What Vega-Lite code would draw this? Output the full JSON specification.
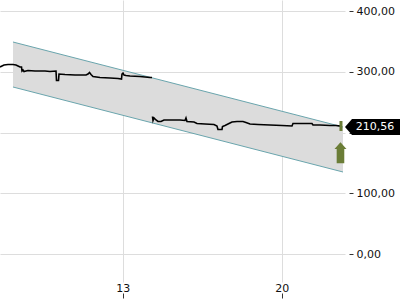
{
  "$schema": "https://vega.github.io/schema/vega-lite/v6.json",
  "width": 345,
  "height": 282,
  "padding": {"left": 0, "top": 0, "right": 55, "bottom": 18},
  "autosize": {"type": "none"},
  "config": {
    "view": {"stroke": null},
    "font": "DejaVu Sans",
    "axis": {"labelFont": "DejaVu Sans", "labelFontSize": 11, "labelColor": "#111", "gridColor": "#dddddd", "gridWidth": 1, "domain": false, "tickColor": "#333"}
  },
  "datasets": {
    "channel": [
      {"day": 8.169, "upper": 348.97, "lower": 274.9},
      {"day": 22.7, "upper": 209.06, "lower": 134.98}
    ],
    "price": [
      {"seg": "a", "day": 7.597, "price": 307.82},
      {"seg": "a", "day": 7.685, "price": 309.47},
      {"seg": "a", "day": 7.773, "price": 311.11},
      {"seg": "a", "day": 7.949, "price": 311.94},
      {"seg": "a", "day": 8.169, "price": 311.94},
      {"seg": "a", "day": 8.301, "price": 311.11},
      {"seg": "a", "day": 8.39, "price": 309.47},
      {"seg": "a", "day": 8.478, "price": 307.82},
      {"seg": "a", "day": 8.544, "price": 307.82},
      {"seg": "a", "day": 8.566, "price": 301.24},
      {"seg": "a", "day": 8.61, "price": 302.88},
      {"seg": "a", "day": 8.654, "price": 300.41},
      {"seg": "a", "day": 8.742, "price": 301.24},
      {"seg": "a", "day": 8.83, "price": 302.06},
      {"seg": "a", "day": 9.138, "price": 301.24},
      {"seg": "a", "day": 9.578, "price": 301.24},
      {"seg": "a", "day": 9.799, "price": 300.41},
      {"seg": "a", "day": 10.063, "price": 301.24},
      {"seg": "a", "day": 10.085, "price": 285.6},
      {"seg": "a", "day": 10.173, "price": 285.6},
      {"seg": "a", "day": 10.195, "price": 296.3},
      {"seg": "a", "day": 10.459, "price": 295.47},
      {"seg": "a", "day": 10.899, "price": 294.65},
      {"seg": "a", "day": 11.384, "price": 294.65},
      {"seg": "a", "day": 11.472, "price": 296.3},
      {"seg": "a", "day": 11.538, "price": 298.77},
      {"seg": "a", "day": 11.604, "price": 295.47},
      {"seg": "a", "day": 11.692, "price": 292.18},
      {"seg": "a", "day": 12.0, "price": 290.54},
      {"seg": "a", "day": 12.44, "price": 289.71},
      {"seg": "a", "day": 12.793, "price": 288.89},
      {"seg": "a", "day": 12.947, "price": 288.07},
      {"seg": "a", "day": 12.969, "price": 296.3},
      {"seg": "a", "day": 13.013, "price": 297.94},
      {"seg": "a", "day": 13.057, "price": 294.65},
      {"seg": "a", "day": 13.145, "price": 293.83},
      {"seg": "a", "day": 13.321, "price": 293.0},
      {"seg": "a", "day": 13.761, "price": 292.18},
      {"seg": "a", "day": 14.201, "price": 290.54},
      {"seg": "a", "day": 14.29, "price": 290.54},
      {"seg": "b", "day": 14.311, "price": 226.34},
      {"seg": "b", "day": 14.334, "price": 219.76},
      {"seg": "b", "day": 14.378, "price": 223.87},
      {"seg": "b", "day": 14.466, "price": 220.58},
      {"seg": "b", "day": 14.554, "price": 218.11},
      {"seg": "b", "day": 14.686, "price": 218.11},
      {"seg": "b", "day": 14.818, "price": 220.58},
      {"seg": "b", "day": 15.082, "price": 220.58},
      {"seg": "b", "day": 15.522, "price": 220.58},
      {"seg": "b", "day": 15.742, "price": 219.76},
      {"seg": "b", "day": 15.786, "price": 223.87},
      {"seg": "b", "day": 15.83, "price": 218.11},
      {"seg": "b", "day": 16.139, "price": 217.29},
      {"seg": "b", "day": 16.271, "price": 214.82},
      {"seg": "b", "day": 16.623, "price": 214.0},
      {"seg": "b", "day": 17.019, "price": 213.17},
      {"seg": "b", "day": 17.151, "price": 210.7},
      {"seg": "b", "day": 17.195, "price": 204.94},
      {"seg": "b", "day": 17.372, "price": 204.94},
      {"seg": "b", "day": 17.394, "price": 209.88},
      {"seg": "b", "day": 17.504, "price": 211.53},
      {"seg": "b", "day": 17.68, "price": 214.82},
      {"seg": "b", "day": 17.812, "price": 217.29},
      {"seg": "b", "day": 18.032, "price": 218.11},
      {"seg": "b", "day": 18.296, "price": 218.11},
      {"seg": "b", "day": 18.428, "price": 216.46},
      {"seg": "b", "day": 18.604, "price": 214.0},
      {"seg": "b", "day": 18.957, "price": 213.17},
      {"seg": "b", "day": 19.485, "price": 212.35},
      {"seg": "b", "day": 20.013, "price": 211.53},
      {"seg": "b", "day": 20.454, "price": 210.7},
      {"seg": "b", "day": 20.498, "price": 214.82},
      {"seg": "b", "day": 21.334, "price": 214.82},
      {"seg": "b", "day": 21.378, "price": 212.35},
      {"seg": "b", "day": 21.687, "price": 212.35},
      {"seg": "b", "day": 22.127, "price": 211.53},
      {"seg": "b", "day": 22.391, "price": 211.53},
      {"seg": "b", "day": 22.611, "price": 210.56}
    ],
    "last": [
      {"day": 22.611, "price": 210.56, "label": "210,56"}
    ]
  },
  "encoding": {
    "x": {
      "field": "day",
      "type": "quantitative",
      "scale": {"domain": [7.597, 22.788], "nice": false, "zero": false},
      "axis": {"values": [13, 20], "format": "d", "title": null, "grid": true, "tickSize": 16, "tickDash": [0, 11, 5, 20], "labelPadding": -16, "labelBaseline": "top"}
    }
  },
  "layer": [
    {
      "data": {"name": "channel"},
      "mark": {"type": "area", "color": "#dcdcdc"},
      "encoding": {
        "y": {
          "field": "upper",
          "type": "quantitative",
          "scale": {"domain": [-46.09, 418.11], "nice": false, "zero": false},
          "axis": {"orient": "right", "values": [0, 100, 200, 300, 400], "title": null, "grid": true, "tickSize": 8, "tickDash": [0, 4, 4, 10], "labelPadding": 3, "labelExpr": "datum.value == 200 ? '' : replace(format(datum.value, '.2f'), '.', ',')"}
        },
        "y2": {"field": "lower"}
      }
    },
    {
      "data": {"name": "channel"},
      "mark": {"type": "line", "color": "#6aa5ad", "strokeWidth": 1},
      "encoding": {"y": {"field": "upper", "type": "quantitative"}}
    },
    {
      "data": {"name": "channel"},
      "mark": {"type": "line", "color": "#6aa5ad", "strokeWidth": 1},
      "encoding": {"y": {"field": "lower", "type": "quantitative"}}
    },
    {
      "data": {"name": "price"},
      "mark": {"type": "line", "color": "#000000", "strokeWidth": 1.6},
      "encoding": {
        "y": {"field": "price", "type": "quantitative"},
        "detail": {"field": "seg"}
      }
    },
    {
      "data": {"name": "last"},
      "mark": {"type": "point", "filled": true, "color": "#6b7d37", "opacity": 1, "size": 1600, "clip": false, "shape": "M-0.075,-0.25L0.075,-0.25L0.075,0.25L-0.075,0.25Z M-0.025,0.81L0.275,1.15L0.165,1.15L0.165,1.855L-0.215,1.855L-0.215,1.15L-0.325,1.15Z"},
      "encoding": {"y": {"field": "price", "type": "quantitative"}}
    },
    {
      "data": {"name": "last"},
      "mark": {"type": "point", "filled": true, "color": "#000000", "opacity": 1, "size": 1600, "clip": false, "shape": "M0.2,0.05L0.55,-0.35L3,-0.35L3,0.45L0.55,0.45Z"},
      "encoding": {"y": {"field": "price", "type": "quantitative"}}
    },
    {
      "data": {"name": "last"},
      "mark": {"type": "text", "color": "#ffffff", "font": "DejaVu Sans", "fontSize": 11, "align": "center", "baseline": "middle", "dx": 34, "dy": 1},
      "encoding": {"y": {"field": "price", "type": "quantitative"}, "text": {"field": "label"}}
    }
  ]
}
